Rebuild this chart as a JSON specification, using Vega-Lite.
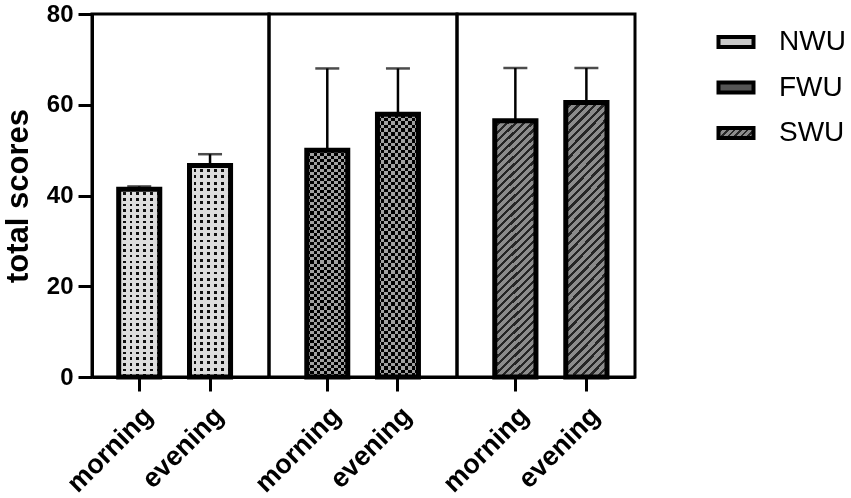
{
  "$schema": "https://vega.github.io/schema/vega-lite/v6.json",
  "background": "white",
  "padding": {"left": 0, "top": 0, "right": 5, "bottom": 5},
  "bounds": "flush",
  "spacing": 0,
  "data": {"values": [
    {"group": "NWU", "time": "morning", "mean": 41.4, "upper": 42.0},
    {"group": "NWU", "time": "evening", "mean": 46.6, "upper": 49.1},
    {"group": "FWU", "time": "morning", "mean": 50.0, "upper": 68.0},
    {"group": "FWU", "time": "evening", "mean": 57.9, "upper": 68.0},
    {"group": "SWU", "time": "morning", "mean": 56.5, "upper": 68.1},
    {"group": "SWU", "time": "evening", "mean": 60.5, "upper": 68.1}
  ]},
  "resolve": {"scale": {"x": "independent", "y": "independent"}},
  "hconcat": [
    {
      "width": 177,
      "height": 363,
      "transform": [{"filter": "datum.group === 'NWU'"}],
      "encoding": {
        "x": {"field": "time", "type": "nominal", "sort": ["morning", "evening"], "title": null,
              "scale": {"paddingInner": 0.42, "paddingOuter": 0.46, "align": 0.41}},
        "y": {"field": "mean", "type": "quantitative", "title": "total scores",
              "scale": {"domain": [0, 80]}, "axis": {"values": [0, 20, 40, 60, 80]}}
      },
      "layer": [
        {"mark": {"type": "bar", "fill": {"gradient": "linear", "x1": 0, "y1": 0, "x2": 0, "y2": 1, "stops": [
          {"offset": 0, "color": "#ddd"}, {"offset": 0.0167, "color": "#ddd"}, {"offset": 0.0167, "color": "#111"}, {"offset": 0.0303, "color": "#111"},
          {"offset": 0.0303, "color": "#ddd"}, {"offset": 0.047, "color": "#ddd"}, {"offset": 0.047, "color": "#111"}, {"offset": 0.0606, "color": "#111"},
          {"offset": 0.0606, "color": "#ddd"}, {"offset": 0.0773, "color": "#ddd"}, {"offset": 0.0773, "color": "#111"}, {"offset": 0.0909, "color": "#111"},
          {"offset": 0.0909, "color": "#ddd"}, {"offset": 0.1076, "color": "#ddd"}, {"offset": 0.1076, "color": "#111"}, {"offset": 0.1212, "color": "#111"},
          {"offset": 0.1212, "color": "#ddd"}, {"offset": 0.1379, "color": "#ddd"}, {"offset": 0.1379, "color": "#111"}, {"offset": 0.1515, "color": "#111"},
          {"offset": 0.1515, "color": "#ddd"}, {"offset": 0.1682, "color": "#ddd"}, {"offset": 0.1682, "color": "#111"}, {"offset": 0.1818, "color": "#111"},
          {"offset": 0.1818, "color": "#ddd"}, {"offset": 0.1985, "color": "#ddd"}, {"offset": 0.1985, "color": "#111"}, {"offset": 0.2121, "color": "#111"},
          {"offset": 0.2121, "color": "#ddd"}, {"offset": 0.2288, "color": "#ddd"}, {"offset": 0.2288, "color": "#111"}, {"offset": 0.2424, "color": "#111"},
          {"offset": 0.2424, "color": "#ddd"}, {"offset": 0.2591, "color": "#ddd"}, {"offset": 0.2591, "color": "#111"}, {"offset": 0.2727, "color": "#111"},
          {"offset": 0.2727, "color": "#ddd"}, {"offset": 0.2894, "color": "#ddd"}, {"offset": 0.2894, "color": "#111"}, {"offset": 0.303, "color": "#111"},
          {"offset": 0.303, "color": "#ddd"}, {"offset": 0.3197, "color": "#ddd"}, {"offset": 0.3197, "color": "#111"}, {"offset": 0.3333, "color": "#111"},
          {"offset": 0.3333, "color": "#ddd"}, {"offset": 0.35, "color": "#ddd"}, {"offset": 0.35, "color": "#111"}, {"offset": 0.3636, "color": "#111"},
          {"offset": 0.3636, "color": "#ddd"}, {"offset": 0.3803, "color": "#ddd"}, {"offset": 0.3803, "color": "#111"}, {"offset": 0.3939, "color": "#111"},
          {"offset": 0.3939, "color": "#ddd"}, {"offset": 0.4106, "color": "#ddd"}, {"offset": 0.4106, "color": "#111"}, {"offset": 0.4242, "color": "#111"},
          {"offset": 0.4242, "color": "#ddd"}, {"offset": 0.4409, "color": "#ddd"}, {"offset": 0.4409, "color": "#111"}, {"offset": 0.4545, "color": "#111"},
          {"offset": 0.4545, "color": "#ddd"}, {"offset": 0.4712, "color": "#ddd"}, {"offset": 0.4712, "color": "#111"}, {"offset": 0.4848, "color": "#111"},
          {"offset": 0.4848, "color": "#ddd"}, {"offset": 0.5015, "color": "#ddd"}, {"offset": 0.5015, "color": "#111"}, {"offset": 0.5152, "color": "#111"},
          {"offset": 0.5152, "color": "#ddd"}, {"offset": 0.5318, "color": "#ddd"}, {"offset": 0.5318, "color": "#111"}, {"offset": 0.5455, "color": "#111"},
          {"offset": 0.5455, "color": "#ddd"}, {"offset": 0.5621, "color": "#ddd"}, {"offset": 0.5621, "color": "#111"}, {"offset": 0.5758, "color": "#111"},
          {"offset": 0.5758, "color": "#ddd"}, {"offset": 0.5924, "color": "#ddd"}, {"offset": 0.5924, "color": "#111"}, {"offset": 0.6061, "color": "#111"},
          {"offset": 0.6061, "color": "#ddd"}, {"offset": 0.6227, "color": "#ddd"}, {"offset": 0.6227, "color": "#111"}, {"offset": 0.6364, "color": "#111"},
          {"offset": 0.6364, "color": "#ddd"}, {"offset": 0.653, "color": "#ddd"}, {"offset": 0.653, "color": "#111"}, {"offset": 0.6667, "color": "#111"},
          {"offset": 0.6667, "color": "#ddd"}, {"offset": 0.6833, "color": "#ddd"}, {"offset": 0.6833, "color": "#111"}, {"offset": 0.697, "color": "#111"},
          {"offset": 0.697, "color": "#ddd"}, {"offset": 0.7136, "color": "#ddd"}, {"offset": 0.7136, "color": "#111"}, {"offset": 0.7273, "color": "#111"},
          {"offset": 0.7273, "color": "#ddd"}, {"offset": 0.7439, "color": "#ddd"}, {"offset": 0.7439, "color": "#111"}, {"offset": 0.7576, "color": "#111"},
          {"offset": 0.7576, "color": "#ddd"}, {"offset": 0.7742, "color": "#ddd"}, {"offset": 0.7742, "color": "#111"}, {"offset": 0.7879, "color": "#111"},
          {"offset": 0.7879, "color": "#ddd"}, {"offset": 0.8045, "color": "#ddd"}, {"offset": 0.8045, "color": "#111"}, {"offset": 0.8182, "color": "#111"},
          {"offset": 0.8182, "color": "#ddd"}, {"offset": 0.8348, "color": "#ddd"}, {"offset": 0.8348, "color": "#111"}, {"offset": 0.8485, "color": "#111"},
          {"offset": 0.8485, "color": "#ddd"}, {"offset": 0.8651, "color": "#ddd"}, {"offset": 0.8651, "color": "#111"}, {"offset": 0.8788, "color": "#111"},
          {"offset": 0.8788, "color": "#ddd"}, {"offset": 0.8955, "color": "#ddd"}, {"offset": 0.8955, "color": "#111"}, {"offset": 0.9091, "color": "#111"},
          {"offset": 0.9091, "color": "#ddd"}, {"offset": 0.9258, "color": "#ddd"}, {"offset": 0.9258, "color": "#111"}, {"offset": 0.9394, "color": "#111"},
          {"offset": 0.9394, "color": "#ddd"}, {"offset": 0.9561, "color": "#ddd"}, {"offset": 0.9561, "color": "#111"}, {"offset": 0.9697, "color": "#111"},
          {"offset": 0.9697, "color": "#ddd"}, {"offset": 0.9864, "color": "#ddd"}, {"offset": 0.9864, "color": "#111"}, {"offset": 1, "color": "#111"}
        ]}}},
        {"mark": {"type": "bar", "fill": {"gradient": "linear", "x1": 0, "y1": 0, "x2": 1, "y2": 0, "stops": [
          {"offset": 0, "color": "#ddd"}, {"offset": 0.1, "color": "#ddd"}, {"offset": 0.1, "color": "rgba(221,221,221,0)"}, {"offset": 0.1667, "color": "rgba(221,221,221,0)"},
          {"offset": 0.1667, "color": "#ddd"}, {"offset": 0.2667, "color": "#ddd"}, {"offset": 0.2667, "color": "rgba(221,221,221,0)"}, {"offset": 0.3333, "color": "rgba(221,221,221,0)"},
          {"offset": 0.3333, "color": "#ddd"}, {"offset": 0.4333, "color": "#ddd"}, {"offset": 0.4333, "color": "rgba(221,221,221,0)"}, {"offset": 0.5, "color": "rgba(221,221,221,0)"},
          {"offset": 0.5, "color": "#ddd"}, {"offset": 0.6, "color": "#ddd"}, {"offset": 0.6, "color": "rgba(221,221,221,0)"}, {"offset": 0.6667, "color": "rgba(221,221,221,0)"},
          {"offset": 0.6667, "color": "#ddd"}, {"offset": 0.7667, "color": "#ddd"}, {"offset": 0.7667, "color": "rgba(221,221,221,0)"}, {"offset": 0.8333, "color": "rgba(221,221,221,0)"},
          {"offset": 0.8333, "color": "#ddd"}, {"offset": 0.9333, "color": "#ddd"}, {"offset": 0.9333, "color": "rgba(221,221,221,0)"}, {"offset": 1, "color": "rgba(221,221,221,0)"}
        ]}}},
        {"mark": {"type": "bar", "fill": null, "stroke": "black", "strokeWidth": 5}},
        {"mark": {"type": "rule", "color": "black", "strokeWidth": 2.5},
         "encoding": {"y2": {"field": "upper"}}},
        {"mark": {"type": "tick", "color": "black", "size": 24, "thickness": 2.5},
         "encoding": {"y": {"field": "upper", "type": "quantitative", "title": "total scores", "axis": {"values": [0, 20, 40, 60, 80]}}}}
      ]
    },
    {
      "width": 188,
      "height": 363,
      "transform": [{"filter": "datum.group === 'FWU'"}],
      "encoding": {
        "x": {"field": "time", "type": "nominal", "sort": ["morning", "evening"], "title": null,
              "scale": {"paddingInner": 0.42, "paddingOuter": 0.54, "align": 0.495}},
        "y": {"field": "mean", "type": "quantitative", "scale": {"domain": [0, 80]}, "axis": null}
      },
      "layer": [
        {"mark": {"type": "bar", "fill": {"gradient": "linear", "x1": 0, "y1": 0, "x2": 0, "y2": 1, "stops": [
          {"offset": 0, "color": "#a0a0a0"}, {"offset": 0.0135, "color": "#a0a0a0"}, {"offset": 0.0135, "color": "#000"}, {"offset": 0.027, "color": "#000"},
          {"offset": 0.027, "color": "#a0a0a0"}, {"offset": 0.0405, "color": "#a0a0a0"}, {"offset": 0.0405, "color": "#000"}, {"offset": 0.0541, "color": "#000"},
          {"offset": 0.0541, "color": "#a0a0a0"}, {"offset": 0.0676, "color": "#a0a0a0"}, {"offset": 0.0676, "color": "#000"}, {"offset": 0.0811, "color": "#000"},
          {"offset": 0.0811, "color": "#a0a0a0"}, {"offset": 0.0946, "color": "#a0a0a0"}, {"offset": 0.0946, "color": "#000"}, {"offset": 0.1081, "color": "#000"},
          {"offset": 0.1081, "color": "#a0a0a0"}, {"offset": 0.1216, "color": "#a0a0a0"}, {"offset": 0.1216, "color": "#000"}, {"offset": 0.1351, "color": "#000"},
          {"offset": 0.1351, "color": "#a0a0a0"}, {"offset": 0.1486, "color": "#a0a0a0"}, {"offset": 0.1486, "color": "#000"}, {"offset": 0.1622, "color": "#000"},
          {"offset": 0.1622, "color": "#a0a0a0"}, {"offset": 0.1757, "color": "#a0a0a0"}, {"offset": 0.1757, "color": "#000"}, {"offset": 0.1892, "color": "#000"},
          {"offset": 0.1892, "color": "#a0a0a0"}, {"offset": 0.2027, "color": "#a0a0a0"}, {"offset": 0.2027, "color": "#000"}, {"offset": 0.2162, "color": "#000"},
          {"offset": 0.2162, "color": "#a0a0a0"}, {"offset": 0.2297, "color": "#a0a0a0"}, {"offset": 0.2297, "color": "#000"}, {"offset": 0.2432, "color": "#000"},
          {"offset": 0.2432, "color": "#a0a0a0"}, {"offset": 0.2568, "color": "#a0a0a0"}, {"offset": 0.2568, "color": "#000"}, {"offset": 0.2703, "color": "#000"},
          {"offset": 0.2703, "color": "#a0a0a0"}, {"offset": 0.2838, "color": "#a0a0a0"}, {"offset": 0.2838, "color": "#000"}, {"offset": 0.2973, "color": "#000"},
          {"offset": 0.2973, "color": "#a0a0a0"}, {"offset": 0.3108, "color": "#a0a0a0"}, {"offset": 0.3108, "color": "#000"}, {"offset": 0.3243, "color": "#000"},
          {"offset": 0.3243, "color": "#a0a0a0"}, {"offset": 0.3378, "color": "#a0a0a0"}, {"offset": 0.3378, "color": "#000"}, {"offset": 0.3514, "color": "#000"},
          {"offset": 0.3514, "color": "#a0a0a0"}, {"offset": 0.3649, "color": "#a0a0a0"}, {"offset": 0.3649, "color": "#000"}, {"offset": 0.3784, "color": "#000"},
          {"offset": 0.3784, "color": "#a0a0a0"}, {"offset": 0.3919, "color": "#a0a0a0"}, {"offset": 0.3919, "color": "#000"}, {"offset": 0.4054, "color": "#000"},
          {"offset": 0.4054, "color": "#a0a0a0"}, {"offset": 0.4189, "color": "#a0a0a0"}, {"offset": 0.4189, "color": "#000"}, {"offset": 0.4324, "color": "#000"},
          {"offset": 0.4324, "color": "#a0a0a0"}, {"offset": 0.4459, "color": "#a0a0a0"}, {"offset": 0.4459, "color": "#000"}, {"offset": 0.4595, "color": "#000"},
          {"offset": 0.4595, "color": "#a0a0a0"}, {"offset": 0.473, "color": "#a0a0a0"}, {"offset": 0.473, "color": "#000"}, {"offset": 0.4865, "color": "#000"},
          {"offset": 0.4865, "color": "#a0a0a0"}, {"offset": 0.5, "color": "#a0a0a0"}, {"offset": 0.5, "color": "#000"}, {"offset": 0.5135, "color": "#000"},
          {"offset": 0.5135, "color": "#a0a0a0"}, {"offset": 0.527, "color": "#a0a0a0"}, {"offset": 0.527, "color": "#000"}, {"offset": 0.5405, "color": "#000"},
          {"offset": 0.5405, "color": "#a0a0a0"}, {"offset": 0.5541, "color": "#a0a0a0"}, {"offset": 0.5541, "color": "#000"}, {"offset": 0.5676, "color": "#000"},
          {"offset": 0.5676, "color": "#a0a0a0"}, {"offset": 0.5811, "color": "#a0a0a0"}, {"offset": 0.5811, "color": "#000"}, {"offset": 0.5946, "color": "#000"},
          {"offset": 0.5946, "color": "#a0a0a0"}, {"offset": 0.6081, "color": "#a0a0a0"}, {"offset": 0.6081, "color": "#000"}, {"offset": 0.6216, "color": "#000"},
          {"offset": 0.6216, "color": "#a0a0a0"}, {"offset": 0.6351, "color": "#a0a0a0"}, {"offset": 0.6351, "color": "#000"}, {"offset": 0.6486, "color": "#000"},
          {"offset": 0.6486, "color": "#a0a0a0"}, {"offset": 0.6622, "color": "#a0a0a0"}, {"offset": 0.6622, "color": "#000"}, {"offset": 0.6757, "color": "#000"},
          {"offset": 0.6757, "color": "#a0a0a0"}, {"offset": 0.6892, "color": "#a0a0a0"}, {"offset": 0.6892, "color": "#000"}, {"offset": 0.7027, "color": "#000"},
          {"offset": 0.7027, "color": "#a0a0a0"}, {"offset": 0.7162, "color": "#a0a0a0"}, {"offset": 0.7162, "color": "#000"}, {"offset": 0.7297, "color": "#000"},
          {"offset": 0.7297, "color": "#a0a0a0"}, {"offset": 0.7432, "color": "#a0a0a0"}, {"offset": 0.7432, "color": "#000"}, {"offset": 0.7568, "color": "#000"},
          {"offset": 0.7568, "color": "#a0a0a0"}, {"offset": 0.7703, "color": "#a0a0a0"}, {"offset": 0.7703, "color": "#000"}, {"offset": 0.7838, "color": "#000"},
          {"offset": 0.7838, "color": "#a0a0a0"}, {"offset": 0.7973, "color": "#a0a0a0"}, {"offset": 0.7973, "color": "#000"}, {"offset": 0.8108, "color": "#000"},
          {"offset": 0.8108, "color": "#a0a0a0"}, {"offset": 0.8243, "color": "#a0a0a0"}, {"offset": 0.8243, "color": "#000"}, {"offset": 0.8378, "color": "#000"},
          {"offset": 0.8378, "color": "#a0a0a0"}, {"offset": 0.8514, "color": "#a0a0a0"}, {"offset": 0.8514, "color": "#000"}, {"offset": 0.8649, "color": "#000"},
          {"offset": 0.8649, "color": "#a0a0a0"}, {"offset": 0.8784, "color": "#a0a0a0"}, {"offset": 0.8784, "color": "#000"}, {"offset": 0.8919, "color": "#000"},
          {"offset": 0.8919, "color": "#a0a0a0"}, {"offset": 0.9054, "color": "#a0a0a0"}, {"offset": 0.9054, "color": "#000"}, {"offset": 0.9189, "color": "#000"},
          {"offset": 0.9189, "color": "#a0a0a0"}, {"offset": 0.9324, "color": "#a0a0a0"}, {"offset": 0.9324, "color": "#000"}, {"offset": 0.9459, "color": "#000"},
          {"offset": 0.9459, "color": "#a0a0a0"}, {"offset": 0.9595, "color": "#a0a0a0"}, {"offset": 0.9595, "color": "#000"}, {"offset": 0.973, "color": "#000"},
          {"offset": 0.973, "color": "#a0a0a0"}, {"offset": 0.9865, "color": "#a0a0a0"}, {"offset": 0.9865, "color": "#000"}, {"offset": 1, "color": "#000"}
        ]}}},
        {"mark": {"type": "bar", "blend": "difference", "fill": {"gradient": "linear", "x1": 0, "y1": 0, "x2": 1, "y2": 0, "stops": [
          {"offset": 0, "color": "#000"}, {"offset": 0.0833, "color": "#000"}, {"offset": 0.0833, "color": "#a0a0a0"}, {"offset": 0.1667, "color": "#a0a0a0"},
          {"offset": 0.1667, "color": "#000"}, {"offset": 0.25, "color": "#000"}, {"offset": 0.25, "color": "#a0a0a0"}, {"offset": 0.3333, "color": "#a0a0a0"},
          {"offset": 0.3333, "color": "#000"}, {"offset": 0.4167, "color": "#000"}, {"offset": 0.4167, "color": "#a0a0a0"}, {"offset": 0.5, "color": "#a0a0a0"},
          {"offset": 0.5, "color": "#000"}, {"offset": 0.5833, "color": "#000"}, {"offset": 0.5833, "color": "#a0a0a0"}, {"offset": 0.6667, "color": "#a0a0a0"},
          {"offset": 0.6667, "color": "#000"}, {"offset": 0.75, "color": "#000"}, {"offset": 0.75, "color": "#a0a0a0"}, {"offset": 0.8333, "color": "#a0a0a0"},
          {"offset": 0.8333, "color": "#000"}, {"offset": 0.9167, "color": "#000"}, {"offset": 0.9167, "color": "#a0a0a0"}, {"offset": 1, "color": "#a0a0a0"}
        ]}}},
        {"mark": {"type": "bar", "fill": null, "stroke": "black", "strokeWidth": 5}},
        {"mark": {"type": "rule", "color": "black", "strokeWidth": 2.5},
         "encoding": {"y2": {"field": "upper"}}},
        {"mark": {"type": "tick", "color": "black", "size": 24, "thickness": 2.5},
         "encoding": {"y": {"field": "upper", "type": "quantitative", "axis": null}}}
      ]
    },
    {
      "width": 178,
      "height": 363,
      "transform": [{"filter": "datum.group === 'SWU'"}],
      "encoding": {
        "x": {"field": "time", "type": "nominal", "sort": ["morning", "evening"], "title": null,
              "scale": {"paddingInner": 0.42, "paddingOuter": 0.463, "align": 0.574}},
        "y": {"field": "mean", "type": "quantitative", "scale": {"domain": [0, 80]}, "axis": null}
      },
      "layer": [
        {"mark": {"type": "bar", "stroke": "black", "strokeWidth": 5, "fill": {"gradient": "linear", "x1": 0, "y1": 0, "x2": 0.1724, "y2": 1.1266, "stops": [
          {"offset": 0, "color": "#8c8c8c"}, {"offset": 0.0162, "color": "#8c8c8c"}, {"offset": 0.0162, "color": "#262626"}, {"offset": 0.027, "color": "#262626"},
          {"offset": 0.027, "color": "#8c8c8c"}, {"offset": 0.0432, "color": "#8c8c8c"}, {"offset": 0.0432, "color": "#262626"}, {"offset": 0.0541, "color": "#262626"},
          {"offset": 0.0541, "color": "#8c8c8c"}, {"offset": 0.0703, "color": "#8c8c8c"}, {"offset": 0.0703, "color": "#262626"}, {"offset": 0.0811, "color": "#262626"},
          {"offset": 0.0811, "color": "#8c8c8c"}, {"offset": 0.0973, "color": "#8c8c8c"}, {"offset": 0.0973, "color": "#262626"}, {"offset": 0.1081, "color": "#262626"},
          {"offset": 0.1081, "color": "#8c8c8c"}, {"offset": 0.1243, "color": "#8c8c8c"}, {"offset": 0.1243, "color": "#262626"}, {"offset": 0.1351, "color": "#262626"},
          {"offset": 0.1351, "color": "#8c8c8c"}, {"offset": 0.1514, "color": "#8c8c8c"}, {"offset": 0.1514, "color": "#262626"}, {"offset": 0.1622, "color": "#262626"},
          {"offset": 0.1622, "color": "#8c8c8c"}, {"offset": 0.1784, "color": "#8c8c8c"}, {"offset": 0.1784, "color": "#262626"}, {"offset": 0.1892, "color": "#262626"},
          {"offset": 0.1892, "color": "#8c8c8c"}, {"offset": 0.2054, "color": "#8c8c8c"}, {"offset": 0.2054, "color": "#262626"}, {"offset": 0.2162, "color": "#262626"},
          {"offset": 0.2162, "color": "#8c8c8c"}, {"offset": 0.2324, "color": "#8c8c8c"}, {"offset": 0.2324, "color": "#262626"}, {"offset": 0.2432, "color": "#262626"},
          {"offset": 0.2432, "color": "#8c8c8c"}, {"offset": 0.2595, "color": "#8c8c8c"}, {"offset": 0.2595, "color": "#262626"}, {"offset": 0.2703, "color": "#262626"},
          {"offset": 0.2703, "color": "#8c8c8c"}, {"offset": 0.2865, "color": "#8c8c8c"}, {"offset": 0.2865, "color": "#262626"}, {"offset": 0.2973, "color": "#262626"},
          {"offset": 0.2973, "color": "#8c8c8c"}, {"offset": 0.3135, "color": "#8c8c8c"}, {"offset": 0.3135, "color": "#262626"}, {"offset": 0.3243, "color": "#262626"},
          {"offset": 0.3243, "color": "#8c8c8c"}, {"offset": 0.3405, "color": "#8c8c8c"}, {"offset": 0.3405, "color": "#262626"}, {"offset": 0.3514, "color": "#262626"},
          {"offset": 0.3514, "color": "#8c8c8c"}, {"offset": 0.3676, "color": "#8c8c8c"}, {"offset": 0.3676, "color": "#262626"}, {"offset": 0.3784, "color": "#262626"},
          {"offset": 0.3784, "color": "#8c8c8c"}, {"offset": 0.3946, "color": "#8c8c8c"}, {"offset": 0.3946, "color": "#262626"}, {"offset": 0.4054, "color": "#262626"},
          {"offset": 0.4054, "color": "#8c8c8c"}, {"offset": 0.4216, "color": "#8c8c8c"}, {"offset": 0.4216, "color": "#262626"}, {"offset": 0.4324, "color": "#262626"},
          {"offset": 0.4324, "color": "#8c8c8c"}, {"offset": 0.4486, "color": "#8c8c8c"}, {"offset": 0.4486, "color": "#262626"}, {"offset": 0.4595, "color": "#262626"},
          {"offset": 0.4595, "color": "#8c8c8c"}, {"offset": 0.4757, "color": "#8c8c8c"}, {"offset": 0.4757, "color": "#262626"}, {"offset": 0.4865, "color": "#262626"},
          {"offset": 0.4865, "color": "#8c8c8c"}, {"offset": 0.5027, "color": "#8c8c8c"}, {"offset": 0.5027, "color": "#262626"}, {"offset": 0.5135, "color": "#262626"},
          {"offset": 0.5135, "color": "#8c8c8c"}, {"offset": 0.5297, "color": "#8c8c8c"}, {"offset": 0.5297, "color": "#262626"}, {"offset": 0.5405, "color": "#262626"},
          {"offset": 0.5405, "color": "#8c8c8c"}, {"offset": 0.5568, "color": "#8c8c8c"}, {"offset": 0.5568, "color": "#262626"}, {"offset": 0.5676, "color": "#262626"},
          {"offset": 0.5676, "color": "#8c8c8c"}, {"offset": 0.5838, "color": "#8c8c8c"}, {"offset": 0.5838, "color": "#262626"}, {"offset": 0.5946, "color": "#262626"},
          {"offset": 0.5946, "color": "#8c8c8c"}, {"offset": 0.6108, "color": "#8c8c8c"}, {"offset": 0.6108, "color": "#262626"}, {"offset": 0.6216, "color": "#262626"},
          {"offset": 0.6216, "color": "#8c8c8c"}, {"offset": 0.6378, "color": "#8c8c8c"}, {"offset": 0.6378, "color": "#262626"}, {"offset": 0.6486, "color": "#262626"},
          {"offset": 0.6486, "color": "#8c8c8c"}, {"offset": 0.6649, "color": "#8c8c8c"}, {"offset": 0.6649, "color": "#262626"}, {"offset": 0.6757, "color": "#262626"},
          {"offset": 0.6757, "color": "#8c8c8c"}, {"offset": 0.6919, "color": "#8c8c8c"}, {"offset": 0.6919, "color": "#262626"}, {"offset": 0.7027, "color": "#262626"},
          {"offset": 0.7027, "color": "#8c8c8c"}, {"offset": 0.7189, "color": "#8c8c8c"}, {"offset": 0.7189, "color": "#262626"}, {"offset": 0.7297, "color": "#262626"},
          {"offset": 0.7297, "color": "#8c8c8c"}, {"offset": 0.7459, "color": "#8c8c8c"}, {"offset": 0.7459, "color": "#262626"}, {"offset": 0.7568, "color": "#262626"},
          {"offset": 0.7568, "color": "#8c8c8c"}, {"offset": 0.773, "color": "#8c8c8c"}, {"offset": 0.773, "color": "#262626"}, {"offset": 0.7838, "color": "#262626"},
          {"offset": 0.7838, "color": "#8c8c8c"}, {"offset": 0.8, "color": "#8c8c8c"}, {"offset": 0.8, "color": "#262626"}, {"offset": 0.8108, "color": "#262626"},
          {"offset": 0.8108, "color": "#8c8c8c"}, {"offset": 0.827, "color": "#8c8c8c"}, {"offset": 0.827, "color": "#262626"}, {"offset": 0.8378, "color": "#262626"},
          {"offset": 0.8378, "color": "#8c8c8c"}, {"offset": 0.854, "color": "#8c8c8c"}, {"offset": 0.854, "color": "#262626"}, {"offset": 0.8649, "color": "#262626"},
          {"offset": 0.8649, "color": "#8c8c8c"}, {"offset": 0.8811, "color": "#8c8c8c"}, {"offset": 0.8811, "color": "#262626"}, {"offset": 0.8919, "color": "#262626"},
          {"offset": 0.8919, "color": "#8c8c8c"}, {"offset": 0.9081, "color": "#8c8c8c"}, {"offset": 0.9081, "color": "#262626"}, {"offset": 0.9189, "color": "#262626"},
          {"offset": 0.9189, "color": "#8c8c8c"}, {"offset": 0.9351, "color": "#8c8c8c"}, {"offset": 0.9351, "color": "#262626"}, {"offset": 0.9459, "color": "#262626"},
          {"offset": 0.9459, "color": "#8c8c8c"}, {"offset": 0.9622, "color": "#8c8c8c"}, {"offset": 0.9622, "color": "#262626"}, {"offset": 0.973, "color": "#262626"},
          {"offset": 0.973, "color": "#8c8c8c"}, {"offset": 0.9892, "color": "#8c8c8c"}, {"offset": 0.9892, "color": "#262626"}, {"offset": 1, "color": "#262626"}
        ]}}},
        {"mark": {"type": "rule", "color": "black", "strokeWidth": 2.5},
         "encoding": {"y2": {"field": "upper"}}},
        {"mark": {"type": "tick", "color": "black", "size": 24, "thickness": 2.5},
         "encoding": {"y": {"field": "upper", "type": "quantitative", "axis": null}}}
      ]
    },
    {
      "width": 202,
      "height": 147,
      "view": {"stroke": null},
      "transform": [{"filter": "datum.time === 'morning'"}],
      "encoding": {
        "y": {"field": "group", "type": "nominal", "sort": ["NWU", "FWU", "SWU"],
              "scale": {"type": "point", "padding": 0.615}, "axis": null}
      },
      "layer": [
        {"transform": [{"filter": "datum.group === 'NWU'"}],
         "mark": {"type": "point", "shape": "M-1,-0.286H1V0.286H-1Z", "size": 1225, "filled": true, "opacity": 1, "fillOpacity": 1,
                  "fill": "#c8c8c8", "stroke": "black", "strokeWidth": 4}},
        {"transform": [{"filter": "datum.group === 'FWU'"}],
         "mark": {"type": "point", "shape": "M-1,-0.286H1V0.286H-1Z", "size": 1225, "filled": true, "opacity": 1, "fillOpacity": 1,
                  "fill": "#555555", "stroke": "black", "strokeWidth": 4}},
        {"transform": [{"filter": "datum.group === 'SWU'"}],
         "mark": {"type": "point", "shape": "M-1,-0.286H1V0.286H-1Z", "size": 1225, "filled": true, "opacity": 1, "fillOpacity": 1,
                  "stroke": "black", "strokeWidth": 4,
                  "fill": {"gradient": "linear", "x1": 0, "y1": 0, "x2": 1.189, "y2": 0.34, "stops": [
                    {"offset": 0, "color": "#8c8c8c"}, {"offset": 0.0857, "color": "#8c8c8c"}, {"offset": 0.0857, "color": "#262626"}, {"offset": 0.1429, "color": "#262626"},
                    {"offset": 0.1429, "color": "#8c8c8c"}, {"offset": 0.2286, "color": "#8c8c8c"}, {"offset": 0.2286, "color": "#262626"}, {"offset": 0.2857, "color": "#262626"},
                    {"offset": 0.2857, "color": "#8c8c8c"}, {"offset": 0.3714, "color": "#8c8c8c"}, {"offset": 0.3714, "color": "#262626"}, {"offset": 0.4286, "color": "#262626"},
                    {"offset": 0.4286, "color": "#8c8c8c"}, {"offset": 0.5143, "color": "#8c8c8c"}, {"offset": 0.5143, "color": "#262626"}, {"offset": 0.5714, "color": "#262626"},
                    {"offset": 0.5714, "color": "#8c8c8c"}, {"offset": 0.6571, "color": "#8c8c8c"}, {"offset": 0.6571, "color": "#262626"}, {"offset": 0.7143, "color": "#262626"},
                    {"offset": 0.7143, "color": "#8c8c8c"}, {"offset": 0.8, "color": "#8c8c8c"}, {"offset": 0.8, "color": "#262626"}, {"offset": 0.8571, "color": "#262626"},
                    {"offset": 0.8571, "color": "#8c8c8c"}, {"offset": 0.9429, "color": "#8c8c8c"}, {"offset": 0.9429, "color": "#262626"}, {"offset": 1, "color": "#262626"}
                  ]}}},
        {"mark": {"type": "text", "align": "left", "baseline": "middle", "dx": 43,
                  "font": "Liberation Sans", "fontSize": 28, "fill": "black"},
         "encoding": {"text": {"field": "group"}}}
      ]
    }
  ],
  "config": {
    "font": "Liberation Sans",
    "view": {"stroke": "black", "strokeWidth": 3},
    "axis": {
      "grid": false,
      "domainColor": "black", "domainWidth": 3,
      "tickColor": "black", "tickWidth": 3, "tickSize": 14,
      "labelFont": "Liberation Sans", "labelFontSize": 24, "labelFontWeight": "bold", "labelColor": "black",
      "titleFont": "Liberation Sans", "titleFontSize": 31, "titleFontWeight": "bold", "titleColor": "black"
    },
    "axisX": {"labelAngle": -45, "labelPadding": 11, "labelFontSize": 27},
    "axisY": {"labelPadding": 5, "titlePadding": 12}
  }
}
